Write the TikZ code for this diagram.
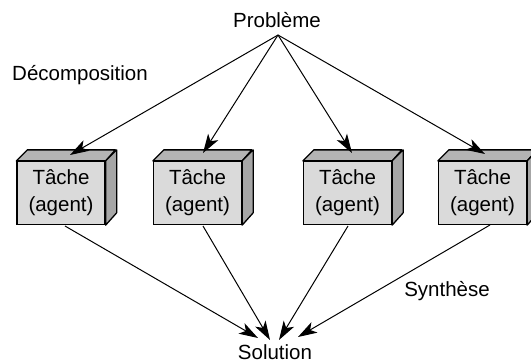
\documentclass[tikz,border=0pt]{standalone}
\usepackage{fontspec}
\setmainfont{Liberation Sans}
\usetikzlibrary{arrows.meta}
\definecolor{frontc}{HTML}{DADADA}
\definecolor{topc}{HTML}{B4B4B4}
\definecolor{sidec}{HTML}{A6A6A6}
\begin{document}
\begin{tikzpicture}[x=1pt,y=-1pt,
  lbl/.style={font=\fontsize{20.5}{27}\selectfont, inner sep=0pt},
  front/.style={draw=black, line width=1.3pt, fill=frontc, minimum width=88pt, minimum height=63pt, inner sep=0pt, align=center, font=\fontsize{20.5}{27}\selectfont},
  arr/.style={line width=1pt, -{Stealth[length=19pt,width=12pt,inset=5pt]}}]
\useasboundingbox (0,0) rectangle (531,364);
\clip (0,0) rectangle (531,364);
% labels
\node[lbl] (prob) at (277,20) {Problème};
\node[lbl] (decomp) at (80,75) {Décomposition};
\node[lbl] (synth) at (447,291) {Synthèse};
\node[lbl] (sol) at (275,352) {Solution};
\coordinate (apex) at (278,35);
% boxes
\foreach \i/\x in {1/61, 2/197.5, 3/347.5, 4/482.5} {
  \node[front] (b\i) at (\x,193) {Tâche\\(agent)};
  \filldraw[fill=topc, line width=1.3pt, line join=round] (b\i.north west) -- ++(11,-11) -- ++(88,0) -- (b\i.north east) -- cycle;
  \filldraw[fill=sidec, line width=1.3pt, line join=round] (b\i.north east) -- ++(11,-11) -- ++(0,63) -- (b\i.south east) -- cycle;
}
% arrow targets
\coordinate (t1) at (70,155);
\coordinate (t2) at (203,153);
\coordinate (t3) at (352,153);
\coordinate (t4) at (485,154);
\coordinate (s1) at (65,226);
\coordinate (s2) at (203,226);
\coordinate (s3) at (348,226);
\coordinate (s4) at (490,225);
\coordinate (e1) at (258,338);
\coordinate (e2) at (270,340);
\coordinate (e3) at (279,340);
\coordinate (e4) at (298,337);
\foreach \i in {1,2,3,4} {
  \draw[arr] (apex) -- (t\i);
  \draw[arr] (s\i) -- (e\i);
}
\end{tikzpicture}
\end{document}
